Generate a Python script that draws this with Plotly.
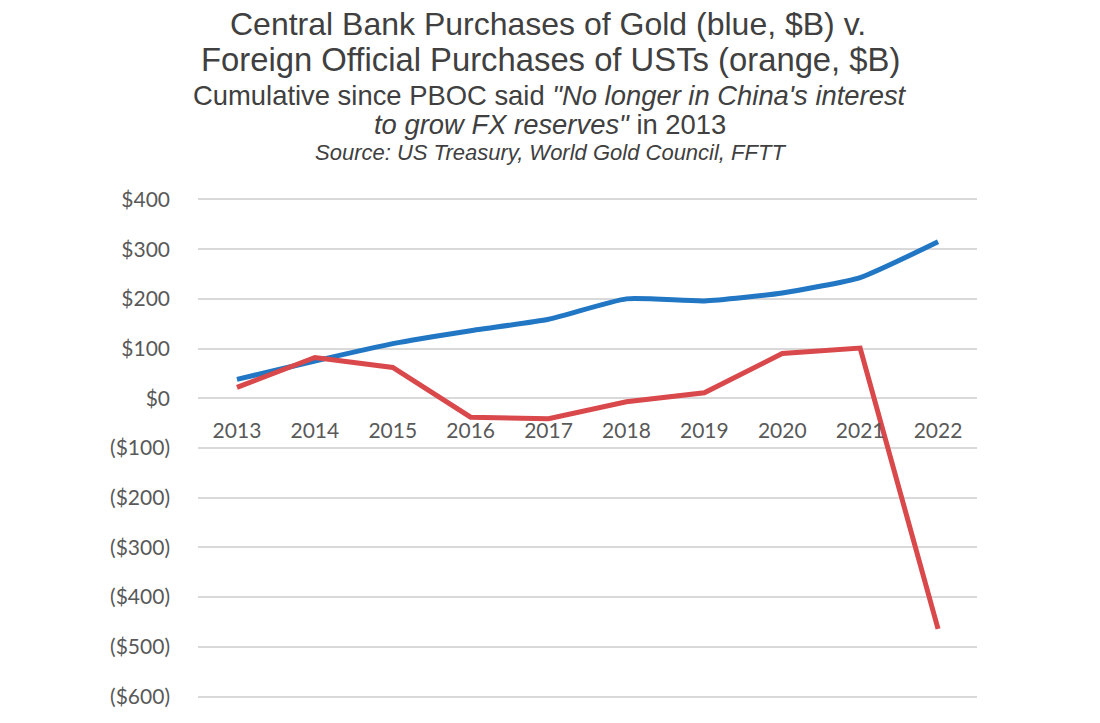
import plotly.graph_objects as go

years = ["2013", "2014", "2015", "2016", "2017", "2018", "2019", "2020", "2021", "2022"]
gold_purchases = [38, 75, 110, 136, 159, 200, 196, 212, 243, 315]
ust_purchases = [22, 82, 62, -38, -41, -7, 11, 90, 101, -464]
y_tickvals = [400, 300, 200, 100, 0, -100, -200, -300, -400, -500, -600]
y_ticktext = ["$400", "$300", "$200", "$100", "$0", "($100)", "($200)", "($300)",
              "($400)", "($500)", "($600)"]

W, H = 1100, 723
ML, MR, MT, MB = 198, 123, 198, 25
PW, PH = W - ML - MR, H - MT - MB

def px(x):
    return (x - ML) / PW

def py(y):
    return (H - MB - y) / PH

fig = go.Figure()
fig.add_trace(go.Scatter(x=years, y=gold_purchases, mode="lines",
                         line=dict(color="#2177C4", width=5, shape="spline", smoothing=0.5),
                         name="Gold", showlegend=False))
fig.add_trace(go.Scatter(x=years, y=ust_purchases, mode="lines",
                         line=dict(color="#D9484B", width=5),
                         name="USTs", showlegend=False))

title_font = "Liberation Sans, Arial, sans-serif"
tc = "#404040"
anns = [
    ("Central Bank Purchases of Gold (blue, $B) v.", 548, 23.5, 32),
    ("Foreign Official Purchases of USTs (orange, $B)", 550, 59.5, 32.8),
    ("Cumulative since PBOC said <i>\"No longer in China's interest</i>", 550, 95, 27.4),
    ("<i>to grow FX reserves\"</i> in 2013", 549.5, 124, 27.4),
    ("<i>Source: US Treasury, World Gold Council, FFTT</i>", 550, 152.5, 22),
]
for text, x, y, s in anns:
    fig.add_annotation(text=text, x=px(x), y=py(y), xref="paper", yref="paper",
                       xanchor="center", yanchor="middle", showarrow=False,
                       font=dict(family=title_font, size=s, color=tc))

fig.update_layout(
    width=W, height=H,
    margin=dict(l=ML, r=MR, t=MT, b=MB),
    paper_bgcolor="white", plot_bgcolor="white",
    xaxis=dict(type="category", range=[-0.5, 9.5], showgrid=False, zeroline=False,
               showline=False, anchor="free", position=(0 + 603) / 1006,
               ticks="", ticklabelstandoff=18,
               tickfont=dict(family="Lato, sans-serif", size=21, color="#595959")),
    yaxis=dict(range=[-603, 403], tickvals=y_tickvals, ticktext=y_ticktext,
               showgrid=True, gridcolor="#D9D9D9", gridwidth=1.5, zeroline=False,
               showline=False, ticks="", ticklabelstandoff=27,
               tickfont=dict(family="Lato, sans-serif", size=21, color="#595959")),
)

fig.write_html("out.html")
